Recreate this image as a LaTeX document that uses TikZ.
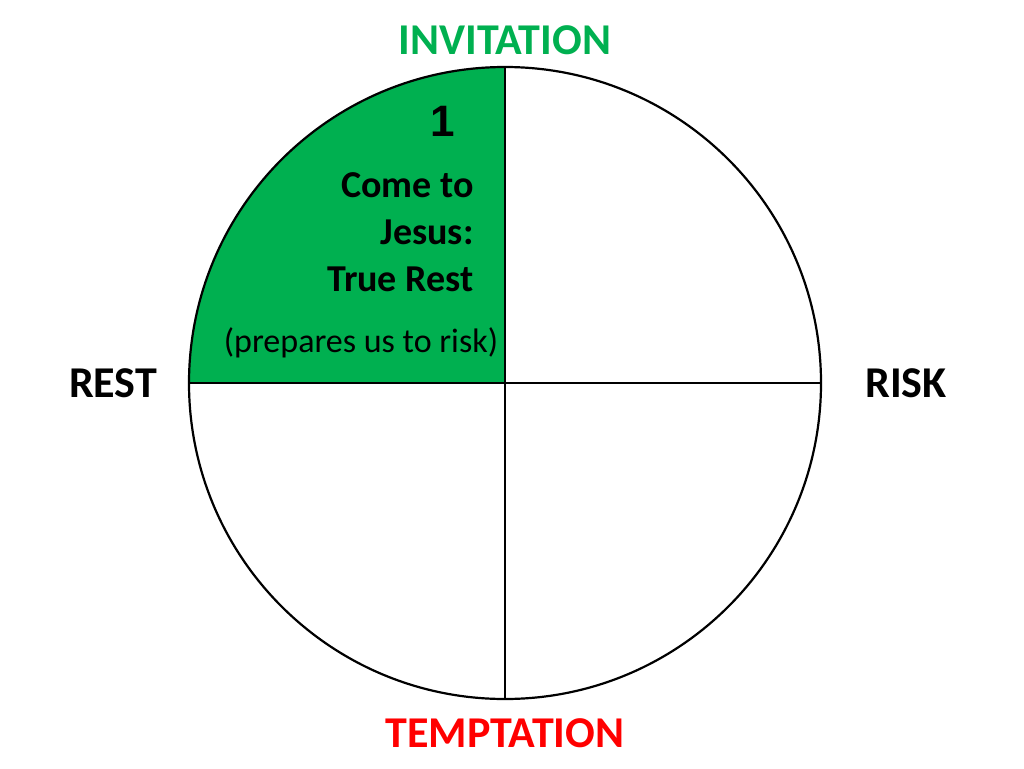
\documentclass[tikz,border=0pt]{standalone}
\usepackage{fontspec}
\setmainfont{Carlito}
\newfontfamily\numfont{Liberation Sans}
\usetikzlibrary{positioning}
\definecolor{quadgreen}{HTML}{00B050}
\begin{document}
\begin{tikzpicture}[x=1pt,y=-1pt,line width=2.2pt,
                    axislabel/.style={font=\fontsize{44}{50}\selectfont\bfseries},
                    quadtext/.style={font=\fontsize{38}{47}\selectfont\bfseries,align=right,anchor=east}]
  \useasboundingbox (0,0) rectangle (1024,768);
  \coordinate (O) at (505,383);
  % green quadrant
  \fill[quadgreen] (O) -- (189,383) arc[start angle=180,end angle=270,radius=316] -- cycle;
  \draw (O) circle[radius=316];
  \draw (O) -- (189,383) (O) -- (821,383) (O) -- (505,67) (O) -- (505,699);

  \node[axislabel,text=quadgreen] (inv) at (505,40) {INVITATION};
  \node[axislabel] (rest) at (113,383) {REST};
  \node[axislabel] (risk) at (906,383) {RISK};
  \node[axislabel,text=red] (temp) at (505,733) {TEMPTATION};

  \node[font=\fontsize{44}{50}\selectfont\numfont\bfseries] (num) at (443,121) {1};
  \node[quadtext] (come) at (478,232) {Come to\\Jesus:\\True Rest};
  \node[font=\fontsize{34}{40}\selectfont] (prep) at (361,343) {(prepares us to risk)};
\end{tikzpicture}
\end{document}
